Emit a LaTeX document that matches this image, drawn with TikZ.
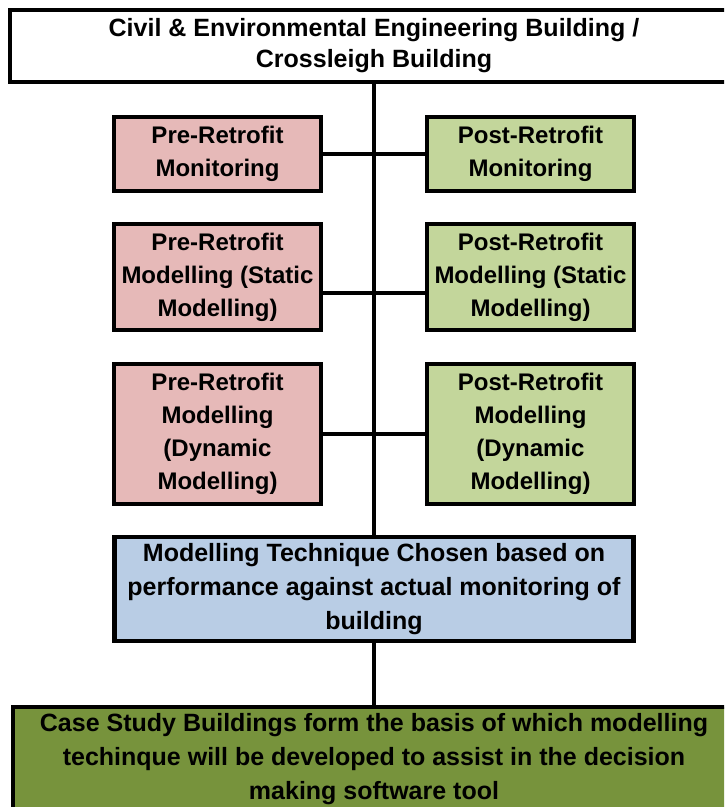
\documentclass[tikz,border=0pt]{standalone}
\usepackage{fontspec}
\setmainfont{Liberation Sans}
\definecolor{prefill}{HTML}{E6B9B8}
\definecolor{postfill}{HTML}{C3D69B}
\definecolor{choicefill}{HTML}{B9CDE5}
\definecolor{casefill}{HTML}{77933C}
\tikzset{box/.style={
        draw=black, line width=4.2pt, align=center, inner sep=0pt,
        font=\fontsize{24}{33}\selectfont\bfseries
    },
    prebox/.style={box, fill=prefill, minimum width=207pt},
    postbox/.style={box, fill=postfill, minimum width=207pt},
    link/.style={line width=4.2pt}
}

\begin{document}
\begin{tikzpicture}[x=1pt,y=1pt]
      \path[use as bounding box, clip] (0,0) rectangle (724,-807);
      % nodes
      \node[box, fill=white, minimum width=728pt, minimum height=72pt,
            font=\fontsize{25}{31}\selectfont\bfseries] (building) at (374,-46)
            {Civil \& Environmental Engineering Building /\\Crossleigh Building};
      \node[prebox, minimum height=74pt] (premon) at (217.5,-154) {Pre-Retrofit\\Monitoring};
      \node[postbox, minimum height=74pt] (postmon) at (530.5,-154) {Post-Retrofit\\Monitoring};
      \node[prebox, minimum height=106pt] (prestat) at (217.5,-277) {Pre-Retrofit\\Modelling (Static\\Modelling)};
      \node[postbox, minimum height=106pt] (poststat) at (530.5,-277) {Post-Retrofit\\Modelling (Static\\Modelling)};
      \node[prebox, minimum height=140pt] (predyn) at (217.5,-434) {Pre-Retrofit\\Modelling\\(Dynamic\\Modelling)};
      \node[postbox, minimum height=140pt] (postdyn) at (530.5,-434) {Post-Retrofit\\Modelling\\(Dynamic\\Modelling)};
      \node[box, fill=choicefill, minimum width=519pt, minimum height=104pt,
            font=\fontsize{25}{34}\selectfont\bfseries] (chosen) at (374,-589)
            {Modelling Technique Chosen based on\\performance against actual monitoring of\\building};
      \node[box, fill=casefill, minimum width=722pt, minimum height=104pt,
            font=\fontsize{25}{34}\selectfont\bfseries] (casestudy) at (374,-759)
            {Case Study Buildings form the basis of which modelling\\techinque will be developed to assist in the decision\\making software tool};
      % junction on the trunk
      \coordinate (j2) at (374,-293);
      %edges
      \draw[link] (building) -- (chosen);
      \draw[link] (chosen) -- (casestudy);
      \draw[link] (premon) -- (postmon);
      \draw[link] (prestat.east |- j2) -- (poststat.west |- j2);
      \draw[link] (predyn) -- (postdyn);
    \end{tikzpicture}
\end{document}
